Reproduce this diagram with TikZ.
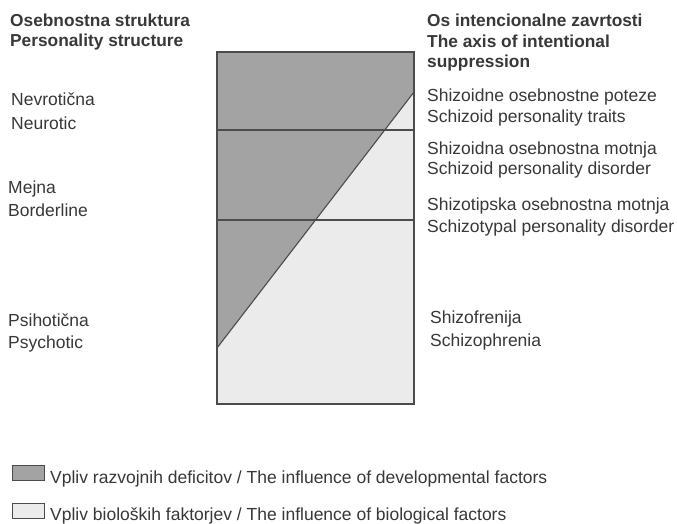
\documentclass[tikz,border=0pt]{standalone}
\usepackage{fontspec}
\setmainfont{Liberation Sans}
\definecolor{darkfill}{gray}{0.64}
\definecolor{lightfill}{gray}{0.92}
\definecolor{inkcol}{gray}{0.22}
\definecolor{linecol}{gray}{0.30}
\begin{document}
\begin{tikzpicture}[x=1pt,y=-1pt,
  lbl/.style={anchor=base west,inner sep=0pt,text=inkcol,font=\fontsize{17.5}{19}\selectfont},
  hdr/.style={lbl,font=\fontsize{17.3}{19}\selectfont\bfseries},
  edge/.style={draw=linecol,line width=1.1pt},
  legbox/.style={draw=linecol,line width=1pt,minimum width=32pt,minimum height=15pt,inner sep=0pt,anchor=north west}]
\useasboundingbox[fill=white] (0,0) rectangle (677,524);
% corners of the chart
\coordinate (tl) at (217,52);
\coordinate (tr) at (414,52);
\coordinate (bl) at (217,404);
\coordinate (br) at (414,404);
\coordinate (dlo) at (217,348);
\coordinate (dhi) at (414,92);
\coordinate (l1) at (217,130);
\coordinate (r1) at (414,130);
\coordinate (l2) at (217,220);
\coordinate (r2) at (414,220);
% fills
\fill[lightfill] (tl) rectangle (br);
\fill[darkfill] (tl) -- (tr) -- (dhi) -- (dlo) -- cycle;
% lines
\draw[edge] (l1) -- (r1);
\draw[edge] (l2) -- (r2);
\draw[edge] (dlo) -- (dhi);
\draw[edge] (tl) rectangle (br);
% left labels
\node[hdr] (h1) at (10,27) {Osebnostna struktura};
\node[hdr] (h2) at (10,47) {Personality structure};
\node[lbl] (n1) at (11,106) {Nevrotična};
\node[lbl] (n2) at (11,130) {Neurotic};
\node[lbl] (m1) at (8,193) {Mejna};
\node[lbl] (m2) at (8,216) {Borderline};
\node[lbl] (p1) at (8,326) {Psihotična};
\node[lbl] (p2) at (8,348) {Psychotic};
% right labels
\node[hdr] (a1) at (427,27) {Os intencionalne zavrtosti};
\node[hdr] (a2) at (427,48) {The axis of intentional};
\node[hdr] (a3) at (427,68) {suppression};
\node[lbl] (s1) at (427,102) {Shizoidne osebnostne poteze};
\node[lbl] (s2) at (427,123) {Schizoid personality traits};
\node[lbl] (s3) at (427,154) {Shizoidna osebnostna motnja};
\node[lbl] (s4) at (427,175) {Schizoid personality disorder};
\node[lbl] (s5) at (427,210) {Shizotipska osebnostna motnja};
\node[lbl] (s6) at (427,232) {Schizotypal personality disorder};
\node[lbl] (f1) at (430,323) {Shizofrenija};
\node[lbl] (f2) at (430,346) {Schizophrenia};
% legend
\node[legbox,fill=darkfill] (k1) at (12,465) {};
\node[lbl] (t1) at (50,483) {Vpliv razvojnih deficitov / The influence of developmental factors};
\node[legbox,fill=lightfill] (k2) at (12,503) {};
\node[lbl] (t2) at (50,520) {Vpliv bioloških faktorjev / The influence of biological factors};
\end{tikzpicture}
\end{document}
